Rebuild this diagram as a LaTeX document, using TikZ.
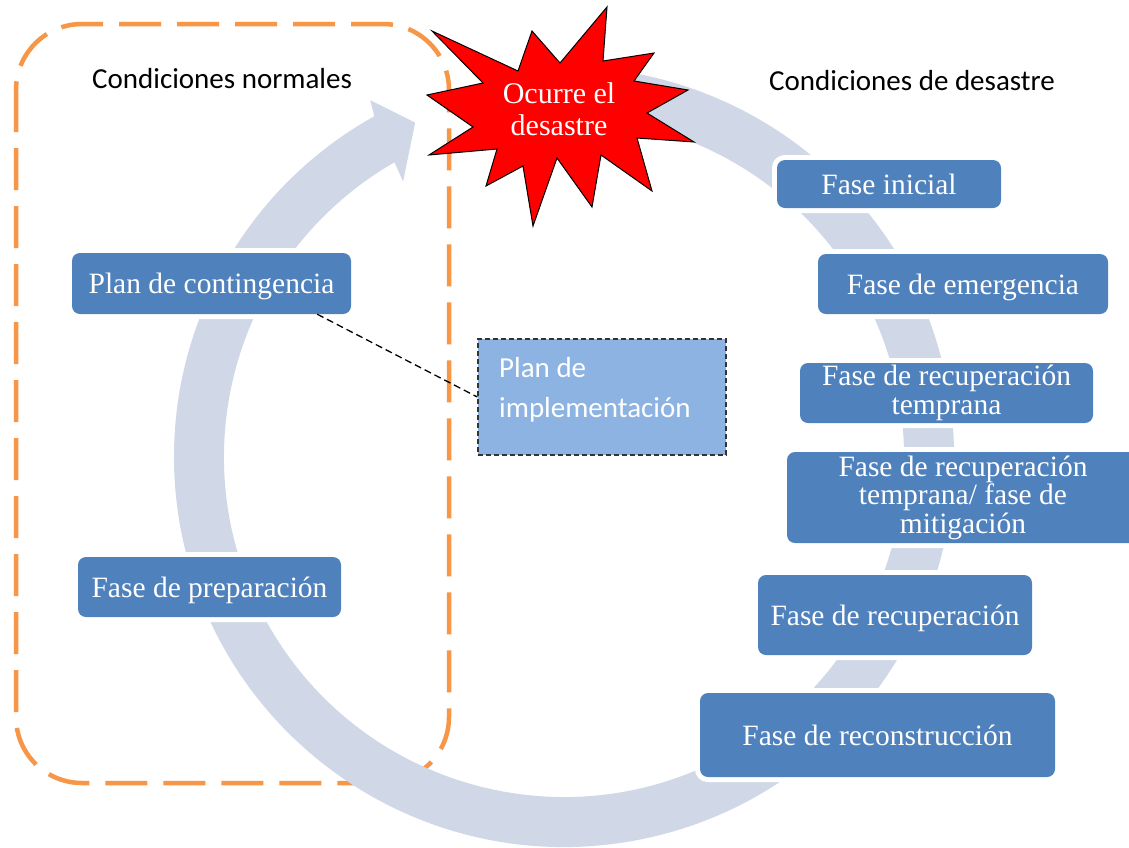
\documentclass[tikz,border=0pt]{standalone}
\usepackage{fontspec}
\setmainfont{Liberation Serif}
\newfontfamily\carlito{Carlito}
\definecolor{boxblue}{HTML}{4F81BD}
\definecolor{bandcol}{HTML}{D0D8E8}
\definecolor{orangeline}{HTML}{F79646}
\definecolor{implfill}{HTML}{8DB3E2}
\definecolor{implborder}{HTML}{333333}
\definecolor{starred}{HTML}{FF0000}
\tikzset{
  phasebox/.style={rounded corners=8pt, fill=boxblue,
    preaction={draw=white, line width=10pt},
    text=white, font=\fontsize{29.5}{28.5}\selectfont, inner sep=0pt, align=center},
  oneline/.style={text height=20pt, text depth=0pt},
  sanslabel/.style={font=\carlito\fontsize{29}{34}\selectfont, inner sep=0pt, anchor=base west},
}
\begin{document}
\begin{tikzpicture}[x=1pt,y=-1pt]
\useasboundingbox (0,0) rectangle (1129,847);
\fill[white] (0,0) rectangle (1129,847);

% orange dashed region
\draw[orangeline, line width=4.5pt, dash pattern=on 42pt off 16pt, rounded corners=66pt]
  (16,24) rectangle (449,783);

% circular band arrow
\begin{scope}[shift={(564,457)}, yscale=-1]
\fill[bandcol] (100:390) arc[start angle=100, end angle=-240.9, radius=390]
  -- (118.5:406) -- (114:366) -- (120.3:319) -- (119.9:340)
  arc[start angle=-240.1, end angle=100, radius=340] -- cycle;
\end{scope}

% labels
\node[sanslabel] (cn) at (92,88) {Condiciones normales};
\node[sanslabel] (cd) at (769,90) {Condiciones de desastre};

% phase boxes
\node[phasebox, oneline, minimum width=224pt, minimum height=48pt] (fi) at (889,184) {Fase inicial};
\node[phasebox, oneline, minimum width=290pt, minimum height=60pt] (fe) at (963,284) {Fase de emergencia};
\node[phasebox, minimum width=293pt, minimum height=60pt] (frt) at (946.5,393) {Fase de recuperación\\temprana};
\node[phasebox, minimum width=352pt, minimum height=91pt] (frm) at (963,497.5) {Fase de recuperación\\temprana/ fase de\\mitigación};
\node[phasebox, oneline, minimum width=274pt, minimum height=80pt] (fr) at (895,615) {Fase de recuperación};
\node[phasebox, oneline, minimum width=355pt, minimum height=84pt] (frc) at (877.5,735) {Fase de reconstrucción};
\node[phasebox, oneline, minimum width=279pt, minimum height=61pt] (pc) at (211.5,283.5) {Plan de contingencia};
\node[phasebox, oneline, minimum width=263pt, minimum height=60pt] (fp) at (209.5,587) {Fase de preparación};

% implementation plan
\node[draw=implborder, line width=1.3pt, dash pattern=on 5pt off 3pt, fill=implfill,
  minimum width=248pt, minimum height=116pt, inner sep=0pt] (pi) at (602,397) {};
\node[sanslabel, text=white] (pit1) at (499,377) {Plan de};
\node[sanslabel, text=white] (pit2) at (499,417) {implementación};

% dashed connector
\coordinate (pcc) at ([xshift=-34pt]pc.south east);
\draw[black, line width=1.3pt, dash pattern=on 7pt off 4pt] (pcc) -- (pi.west);

% star
\filldraw[fill=starred, draw=black, line width=1pt, line join=miter]
  (432,31) -- (518,71) -- (532,31) -- (560,63) -- (607,7) -- (603,61)
  -- (654,53) -- (634,81) -- (688,90) -- (647,113) -- (694,142) -- (637,138)
  -- (652,191) -- (601,155) -- (592,207) -- (557,158) -- (533,226) -- (523,166)
  -- (486,186) -- (497,149) -- (429,155) -- (473,127) -- (427,95) -- (483,83) -- cycle;
\node[text=white, align=center, inner sep=0pt, font=\fontsize{30}{32}\selectfont] (ocurre) at (559,108.8) {Ocurre el\\desastre};
\end{tikzpicture}
\end{document}
